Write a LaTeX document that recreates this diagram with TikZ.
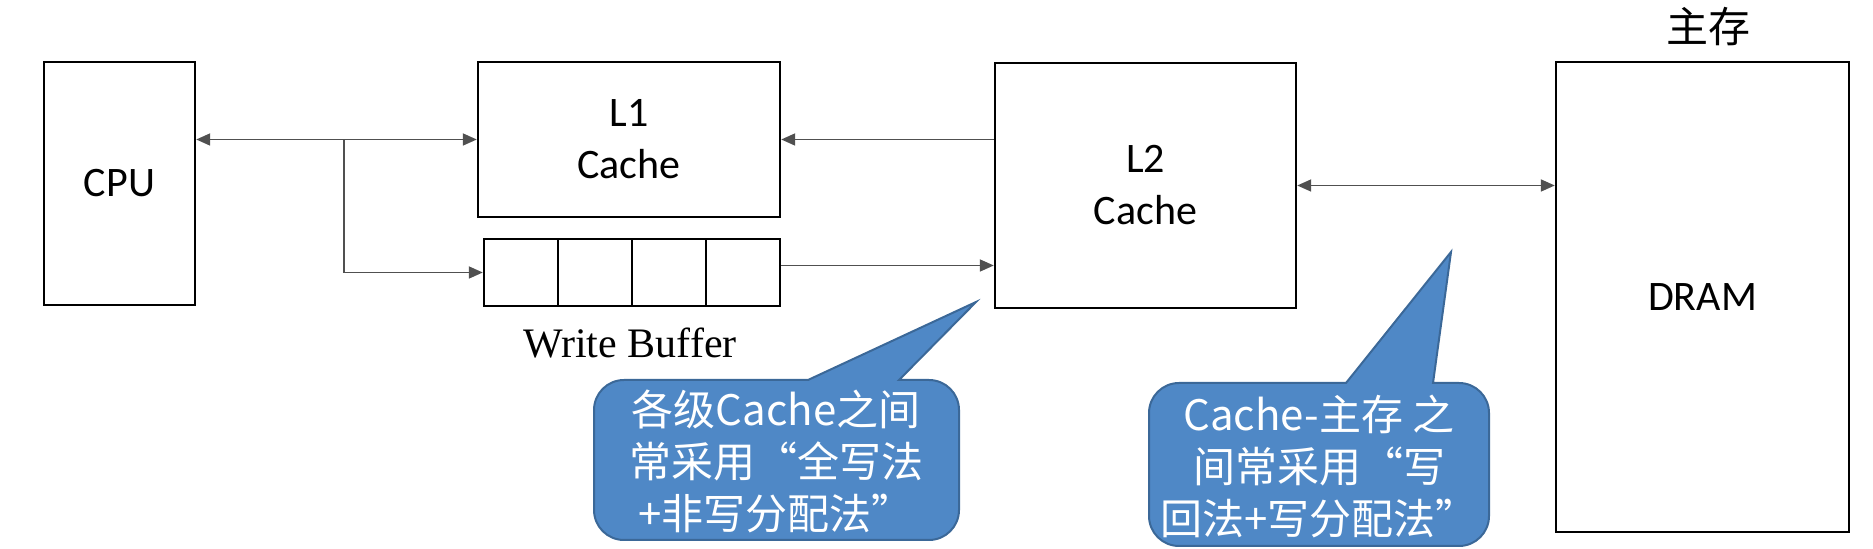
\documentclass[tikz,border=0pt]{standalone}
\usepackage{fontspec}
\setmainfont{Liberation Serif}
\setsansfont{Carlito}
\newfontfamily\cjk{Noto Sans CJK SC}
\usetikzlibrary{arrows.meta}
\definecolor{bubblefill}{HTML}{4F88C6}
\definecolor{bubbleline}{HTML}{3B6898}
\definecolor{wiregray}{HTML}{505050}
\begin{document}
\begin{tikzpicture}[x=0.5pt, y=-0.5pt,
		box/.style={draw, line width=1.2pt, inner sep=0pt, align=center, font=\sffamily\fontsize{21}{26}\selectfont},
		cell/.style={draw, line width=1.2pt, minimum width=37pt, minimum height=33.5pt},
		wire/.style={draw=wiregray, line width=0.9pt},
		arrowto/.style={-{Triangle[length=7pt,width=6pt]}},
		arrowboth/.style={{Triangle[length=7pt,width=6pt]}-{Triangle[length=7pt,width=6pt]}},
		bubble/.style={fill=bubblefill, draw=bubbleline, line width=1pt},
		note/.style={text=white, align=center, font=\cjk\fontsize{21}{26}\selectfont}]
			\useasboundingbox (0,0) rectangle (1873,549);
			\node[box, minimum width=75.5pt, minimum height=121.5pt] (cpu) at (119.5,183.5) {CPU};
			\node[box, minimum width=151pt, minimum height=77.5pt] (l1) at (629,139.5) {L1\\Cache};
			\foreach \i/\x in {1/521, 2/595, 3/669, 4/743}
				\node[cell] (wb\i) at (\x,272.5) {};
			\node[font=\fontsize{21}{26}\selectfont] (wblabel) at (630,343) {Write Buffer};
			\node[box, minimum width=150.5pt, minimum height=122.5pt] (l2) at (1145.5,185.5) {L2\\Cache};
			\node[box, minimum width=146.5pt, minimum height=235pt] (dram) at (1702.5,297) {DRAM};
			\node[font=\cjk\fontsize{21}{26}\selectfont] (memlabel) at (1708,27) {主存};
			\coordinate (split) at (344,139.5);
			\draw[wire, arrowboth] (l1.west -| cpu.east) -- (l1.west);
			\draw[wire, arrowto] (split) |- (wb1.west);
			\draw[wire, arrowto] (l1.east -| l2.west) -- (l1.east);
			\draw[wire, arrowto] ([yshift=3.5pt]wb4.east) -- ([yshift=3.5pt]wb4.east -| l2.west);
			\draw[wire, arrowboth] (l2.east) -- (l2.east -| dram.west);
			\draw[bubble] (594,460) [rounded corners=15pt] -- (594,380) [sharp corners] -- (808,380) -- (976,302) -- (899,380) [rounded corners=15pt] -- (959,380) -- (959,540) -- (594,540) -- cycle;
			\node[note] (note1) at (776,461) {各级Cache之间\\常采用“全写法\\+非写分配法”};
			\draw[bubble] (1149,465) [rounded corners=15pt] -- (1149,383) [sharp corners] -- (1346,383) -- (1451,252) -- (1433,383) [rounded corners=15pt] -- (1489,383) -- (1489,546) -- (1149,546) -- cycle;
			\node[note] (note2) at (1319,466) {Cache-主存 之\\间常采用“写\\回法+写分配法”};
		\end{tikzpicture}
\end{document}
